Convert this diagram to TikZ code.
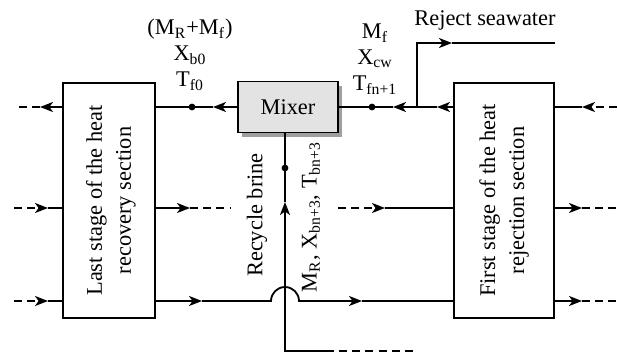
\documentclass[tikz,border=0pt]{standalone}
\usepackage{fontspec}
\setmainfont{Liberation Serif}
\usetikzlibrary{arrows.meta,shadows}
\tikzset{
  stage/.style={draw, line width=0.9pt, minimum width=46pt, minimum height=117.5pt, inner sep=0pt},
  stagetxt/.style={rotate=90, align=center, font=\fontsize{11.2}{14.5}\selectfont},
  mixbox/.style={draw, line width=0.9pt, fill=gray!22, minimum width=50pt, minimum height=25.5pt,
    drop shadow={shadow xshift=2pt, shadow yshift=-2pt, fill=gray!75, opacity=1}},
  pipe/.style={line width=0.9pt},
  flow/.style={pipe, -{Stealth[length=6.5pt,width=5pt,inset=1.8pt]}},
  dashpipe/.style={pipe, dash pattern=on 4pt off 2.6pt},
  junc/.style={circle, fill, inner sep=0pt, minimum size=3.4pt},
}
\begin{document}
\begin{tikzpicture}[x=0.5pt,y=-0.5pt,font=\fontsize{11.2}{13}\selectfont]
\useasboundingbox (0,0) rectangle (617,355);
% Blocks
\node[stage] (last) at (109,200.5) {};
\node[stagetxt] (lasttxt) at (111,200.5) {Last stage of the heat\\recovery section};
\node[stage, minimum width=50pt] (first) at (504,200.5) {};
\node[stagetxt] (firsttxt) at (504,200.5) {First stage of the heat\\rejection section};
\node[mixbox] (mixer) at (288,107) {Mixer};

% Top stream, left side
\coordinate (tL) at (16,107);
\coordinate (tL1) at (40,107);
\draw[flow] (last.west |- tL) -- (tL1);
\draw[dashpipe] (tL1) -- (tL);
\coordinate (a1) at (213,107);
\draw[flow] (mixer.west) -- (a1);
\draw[pipe] (a1) -- (last.east |- a1);
\node[junc] (d1) at (192,107) {};
\node[align=center] (feedlbl) at (190,55) {(M\textsubscript{R}+M\textsubscript{f})\\X\textsubscript{b0}\\T\textsubscript{f0}};

% Top stream, right side
\coordinate (split) at (417,107);
\coordinate (a2) at (437,107);
\coordinate (a3) at (393,107);
\draw[flow] (first.west |- split) -- (a2);
\draw[pipe] (a2) -- (split);
\draw[flow] (split) -- (a3);
\draw[pipe] (a3) -- (mixer.east);
\node[junc] (d2) at (372,107) {};
\node[align=center] (seawlbl) at (375,59) {M\textsubscript{f}\\X\textsubscript{cw}\\T\textsubscript{fn+1}};
\coordinate (tR) at (617,107);
\coordinate (tR1) at (582,107);
\draw[flow, dash pattern=on 4pt off 2.6pt] (tR) -- (tR1);
\draw[pipe] (tR1) -- (first.east |- tR1);

% Reject seawater
\coordinate (rj) at (417,43);
\coordinate (a4) at (452,43);
\coordinate (rjend) at (555,43);
\draw[flow] (split) -- (rj) -- (a4);
\draw[pipe] (a4) -- (rjend);
\node (reject) at (485,20) {Reject seawater};

% Middle stream
\coordinate (mL) at (14,208);
\coordinate (mL1) at (48,208);
\draw[flow, dash pattern=on 4pt off 2.6pt] (mL) -- (mL1);
\draw[pipe] (mL1) -- (last.west |- mL1);
\coordinate (m1) at (190,208);
\coordinate (m1e) at (230,208);
\draw[flow] (last.east |- m1) -- (m1);
\draw[dashpipe] (m1) -- (m1e);
\coordinate (m2s) at (338,208);
\coordinate (m2) at (385,208);
\draw[flow, dash pattern=on 4pt off 2.6pt] (m2s) -- (m2);
\draw[pipe] (m2) -- (first.west |- m2);
\coordinate (m3) at (582,208);
\coordinate (m3e) at (617,208);
\draw[flow] (first.east |- m3) -- (m3);
\draw[dashpipe] (m3) -- (m3e);

% Bottom stream
\coordinate (bL) at (14,301);
\coordinate (bL1) at (48,301);
\draw[flow, dash pattern=on 4pt off 2.6pt] (bL) -- (bL1);
\draw[pipe] (bL1) -- (last.west |- bL1);
\coordinate (b1) at (202,301);
\draw[flow] (last.east |- b1) -- (b1);
\coordinate (hop) at (285,301);
\coordinate (b2) at (362,301);
\draw[flow] (b1) -- ([xshift=-7pt]hop) arc[start angle=180, end angle=0, radius=7pt] -- (b2);
\draw[pipe] (b2) -- (first.west |- b2);
\coordinate (b3) at (582,301);
\coordinate (b3e) at (617,301);
\draw[flow] (first.east |- b3) -- (b3);
\draw[dashpipe] (b3) -- (b3e);

% Recycle brine
\coordinate (rb) at (285,351);
\coordinate (rbd) at (333,351);
\coordinate (rbend) at (413,351);
\coordinate (a5) at (285,202);
\draw[dashpipe] (rbend) -- (rbd);
\draw[flow] (rbd) -- (rb) -- (a5);
\draw[pipe] (a5) -- (rb |- mixer.south);
\node[junc] (d3) at (285,168) {};
\node[rotate=90] (rblbl) at (257,215) {Recycle brine};
\node[rotate=90] (mrlbl) at (311,217) {M\textsubscript{R}, X\textsubscript{bn+3}, T\textsubscript{bn+3}};
\end{tikzpicture}
\end{document}
